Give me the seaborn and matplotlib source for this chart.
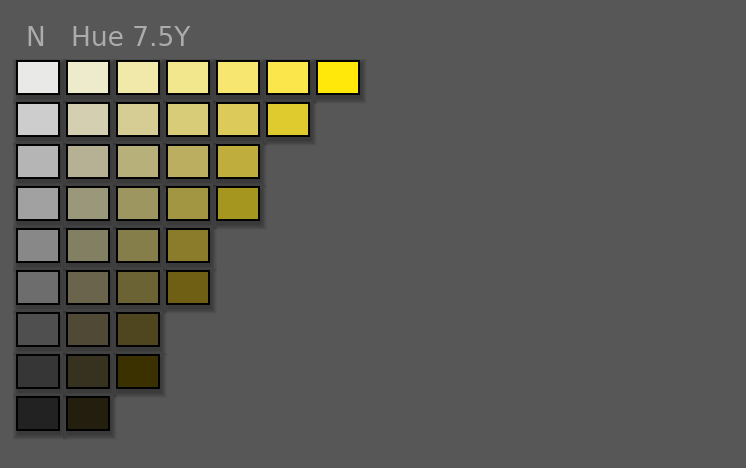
import matplotlib
matplotlib.use("Agg")
import matplotlib.pyplot as plt
from matplotlib.patches import Rectangle
import seaborn as sns

# Munsell 7.5Y page: one row per value, neutral first then chroma 2, 4, 6...
valores = [9, 8, 7, 6, 5, 4, 3, 2, 1]
colores_por_valor = [
    ["#e9e9e8", "#eeebcc", "#f1e9aa", "#f3e78e", "#f7e770", "#fbe64c", "#ffe80a"],
    ["#cdcdcd", "#d4cfb1", "#d6cd95", "#d9cc78", "#dcca5b", "#dfcb2e"],
    ["#b5b5b5", "#b6b194", "#b8b07b", "#bcae60", "#bfad3d"],
    ["#a1a1a1", "#9b977a", "#9e9660", "#a29643", "#a5961f"],
    ["#888888", "#837f63", "#867e4a", "#8a7c2b"],
    ["#6d6d6d", "#69644b", "#6b6333", "#6f5f14"],
    ["#4f4f4f", "#4f4935", "#4f461f"],
    ["#363636", "#36321f", "#3b3100"],
    ["#222222", "#231e0d"],
]
titulo_neutro = "N"
titulo_tono = "Hue 7.5Y"

fondo = "#575757"
ancho, alto = 0.84, 0.786

sns.set_style("dark", {"axes.facecolor": fondo, "figure.facecolor": fondo})
plt.rcParams["font.family"] = ["DejaVu Sans"]

fig = plt.figure(figsize=(7.46, 4.68), dpi=100)
ax = fig.add_axes([0, 0, 1, 1])
ax.set_xlim(-0.76, 14.16)
ax.set_ylim(-0.298, 10.845)
ax.set_axis_off()

for valor, fila in zip(valores, colores_por_valor):
    for j, color in enumerate(fila):
        x0 = j - ancho / 2
        y0 = valor - alto / 2
        # sombra difusa abajo a la derecha
        for k in range(8):
            gx = 0.03 * (k + 1)
            gy = 0.036 * (k + 1)
            ax.add_patch(Rectangle((x0 + 0.03 - gx / 2, y0 - 0.09 - gy / 2),
                                   ancho + gx, alto + gy, facecolor="black",
                                   edgecolor="none", alpha=0.045, zorder=1))
        ax.add_patch(Rectangle((x0, y0), ancho, alto, facecolor=color,
                               edgecolor="black", linewidth=1.4, zorder=3))

ax.text(-0.06, 9.75, titulo_neutro, color="#acacac", fontsize=19,
        ha="center", va="baseline")
ax.text(0.66, 9.75, titulo_tono, color="#acacac", fontsize=19,
        ha="left", va="baseline")

fig.savefig("out.png", dpi=100, facecolor=fondo)
plt.close(fig)
